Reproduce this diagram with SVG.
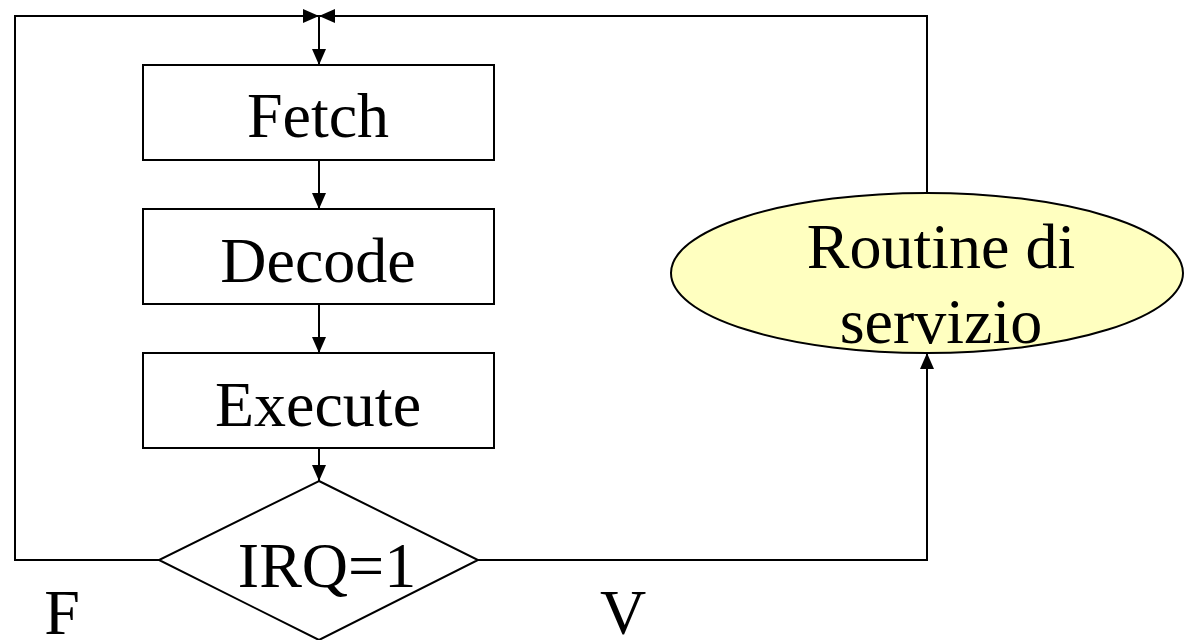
<svg xmlns="http://www.w3.org/2000/svg" width="1196" height="640" viewBox="0 0 1196 640">
  <style>
    .shape { fill: #ffffff; stroke: #000000; stroke-width: 2; }
    .oval { fill: #ffffc0; stroke: #000000; stroke-width: 2; }
    .wire { fill: none; stroke: #000000; stroke-width: 2; }
    .label { font-family: "Liberation Serif", "Times New Roman", serif; font-size: 64px; fill: #000000; text-anchor: middle; }
  </style>
  <defs>
    <marker id="head" viewBox="0 0 16 14" refX="16" refY="7" markerWidth="16" markerHeight="14" markerUnits="userSpaceOnUse" orient="auto">
      <path d="M0,0 L16,7 L0,14 Z" fill="#000000"/>
    </marker>
  </defs>

  <g id="connectors">
    <!-- back edge from the false branch into the top of the loop -->
    <polyline class="wire" points="159,560 15,560 15,16 319,16" marker-end="url(#head)"/>
    <!-- return edge from the service routine into the top of the loop -->
    <polyline class="wire" points="927,193 927,16 319,16" marker-end="url(#head)"/>
    <!-- down into Fetch -->
    <line class="wire" x1="319" y1="16" x2="319" y2="65" marker-end="url(#head)"/>
    <line class="wire" x1="319" y1="160" x2="319" y2="209" marker-end="url(#head)"/>
    <line class="wire" x1="319" y1="304" x2="319" y2="353" marker-end="url(#head)"/>
    <line class="wire" x1="319" y1="448" x2="319" y2="481" marker-end="url(#head)"/>
    <!-- true branch up to the service routine -->
    <polyline class="wire" points="478,560 927,560 927,353" marker-end="url(#head)"/>
  </g>

  <g id="fetch">
    <rect class="shape" x="143" y="65" width="351" height="95"/>
    <text class="label" x="318" y="137">Fetch</text>
  </g>
  <g id="decode">
    <rect class="shape" x="143" y="209" width="351" height="95"/>
    <text class="label" x="318" y="282">Decode</text>
  </g>
  <g id="execute">
    <rect class="shape" x="143" y="353" width="351" height="95"/>
    <text class="label" x="318" y="426">Execute</text>
  </g>
  <g id="irq">
    <polygon class="shape" points="319,481 478,560 319,640 159,560"/>
    <text class="label" x="327" y="587">IRQ=1</text>
  </g>
  <g id="routine">
    <ellipse class="oval" cx="927" cy="273" rx="256" ry="80"/>
    <text class="label" x="941" y="268">Routine di</text>
    <text class="label" x="941" y="343">servizio</text>
  </g>

  <g id="branch-labels">
    <text class="label" x="62" y="634">F</text>
    <text class="label" x="623" y="634">V</text>
  </g>
</svg>
